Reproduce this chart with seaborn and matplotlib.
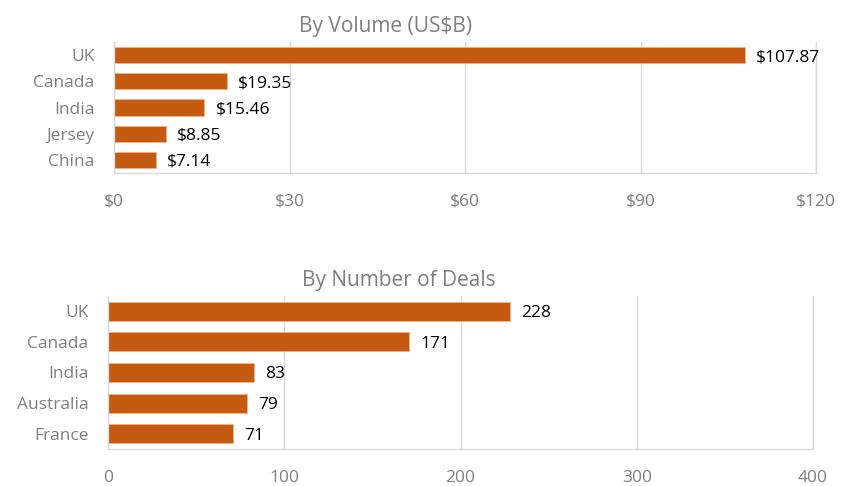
import matplotlib
matplotlib.use("Agg")
import matplotlib.pyplot as plt
import seaborn as sns
import pandas as pd

vol_countries = ["UK", "Canada", "India", "Jersey", "China"]
vol_values = [107.87, 19.35, 15.46, 8.85, 7.14]
vol_ticks = [0, 30, 60, 90, 120]

deal_countries = ["UK", "Canada", "India", "Australia", "France"]
deal_values = [228, 171, 83, 79, 71]
deal_ticks = [0, 100, 200, 300, 400]

sns.set_theme(style="white")
plt.rcParams["font.family"] = ["Open Sans", "DejaVu Sans"]

BAR = "#C55A11"
GRID = "#D9D9D9"
GRAYTXT = "#7F7F7F"

fig = plt.figure(figsize=(8.56, 4.86), dpi=100)
ax1 = fig.add_axes([0.1332, 0.644, 0.8201, 0.2696])
ax2 = fig.add_axes([0.1262, 0.0761, 0.8236, 0.3149])


def style(ax, countries, values, ticks, fmt, title, tx):
    df = pd.DataFrame({"country": countries, "value": values})
    sns.barplot(data=df, x="value", y="country", orient="h", color=BAR,
                width=0.62, ax=ax, saturation=1, edgecolor="#F4B183", linewidth=0.6)
    ax.set_xlim(ticks[0], ticks[-1])
    ax.set_ylim(len(countries) - 0.5, -0.5)
    ax.set_xticks(ticks)
    ax.set_xticklabels([fmt(t) for t in ticks])
    ax.set_xlabel("")
    ax.set_ylabel("")
    ax.grid(axis="x", color=GRID, linewidth=1)
    ax.grid(axis="y", visible=False)
    ax.set_axisbelow(True)
    ax.axvline(ticks[-1], color=GRID, linewidth=1, clip_on=False, zorder=0)
    for s in ["top", "right"]:
        ax.spines[s].set_visible(False)
    for s in ["left", "bottom"]:
        ax.spines[s].set_visible(True)
        ax.spines[s].set_color(GRID)
        ax.spines[s].set_linewidth(1)
    ax.tick_params(axis="x", length=0, pad=15, labelsize=12.5, labelcolor=GRAYTXT)
    ax.tick_params(axis="y", length=0, pad=14, labelsize=12.5, labelcolor=GRAYTXT)
    for c in ax.containers:
        texts = ax.bar_label(c, labels=[fmt(v) for v in values],
                             padding=8, fontsize=12.5, color="black")
        for t in texts:
            t.set_va("center_baseline")
    ax.set_title(title, x=tx, fontsize=15, color=GRAYTXT, pad=7)


style(ax1, vol_countries, vol_values, vol_ticks,
      lambda v: f"${v:,.2f}" if isinstance(v, float) else f"${v}",
      "By Volume (US$B)", 0.387)
style(ax2, deal_countries, deal_values, deal_ticks,
      lambda v: f"{v}", "By Number of Deals", 0.413)

fig.savefig("out.png", dpi=100)
